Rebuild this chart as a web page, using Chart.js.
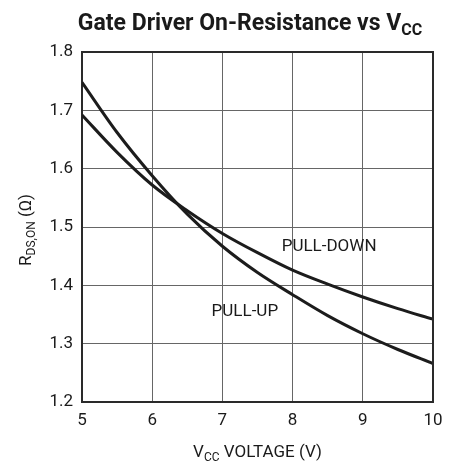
<!DOCTYPE html>
<html>
<head>
<meta charset="utf-8">
<script src="https://cdn.jsdelivr.net/npm/chart.js@4"></script>
<style>
  html, body { margin: 0; padding: 0; background: #fff; }
  #wrap { width: 458px; height: 463px; position: relative; }
</style>
</head>
<body>
<div id="wrap"><canvas id="c" width="458" height="463"></canvas></div>
<script>
// ---- data ----
const vcc = [5, 5.5, 6, 6.5, 7, 7.5, 8, 8.5, 9, 9.5, 10];
const pullUp = [1.748, 1.662, 1.588, 1.522, 1.467, 1.422, 1.384, 1.348, 1.317, 1.290, 1.266];
const pullDown = [1.692, 1.628, 1.572, 1.528, 1.489, 1.456, 1.426, 1.402, 1.380, 1.360, 1.342];
const xTicks = [5, 6, 7, 8, 9, 10];
const yTicks = [1.2, 1.3, 1.4, 1.5, 1.6, 1.7, 1.8];
const curveLabels = [
  { text: 'PULL-DOWN', x: 8.52, y: 1.467 },
  { text: 'PULL-UP', x: 7.32, y: 1.354 }
];
const titleMain = 'Gate Driver On-Resistance vs V';
const titleSub = 'CC';

const FONT = '"Liberation Sans Narrow", "Roboto", "Liberation Sans", sans-serif';

function drawSubText(ctx, parts, x, y, align) {
  let total = 0;
  parts.forEach(p => { ctx.font = p.font; total += ctx.measureText(p.t).width; });
  let cx = align === 'center' ? x - total / 2 : x;
  parts.forEach(p => {
    ctx.font = p.font;
    ctx.fillText(p.t, cx, y + (p.dy || 0));
    cx += ctx.measureText(p.t).width;
  });
}

const textPlugin = {
  id: 'textPlugin',
  afterDraw(chart) {
    const ctx = chart.ctx;
    const xs = chart.scales.x, ys = chart.scales.y;
    ctx.save();
    ctx.fillStyle = '#1a1a1a';
    ctx.textBaseline = 'alphabetic';
    ctx.textAlign = 'left';
    drawSubText(ctx, [
      { t: titleMain, font: 'bold 23px ' + FONT },
      { t: titleSub, font: 'bold 16px ' + FONT, dy: 5 }
    ], 250, 30, 'center');
    const cxa = (chart.chartArea.left + chart.chartArea.right) / 2;
    drawSubText(ctx, [
      { t: 'V', font: '17px ' + FONT },
      { t: 'CC', font: '12px ' + FONT, dy: 4 },
      { t: ' VOLTAGE (V)', font: '17px ' + FONT }
    ], cxa, 457, 'center');
    ctx.save();
    const cya = (chart.chartArea.top + chart.chartArea.bottom) / 2;
    ctx.translate(31, cya + 3);
    ctx.rotate(-Math.PI / 2);
    drawSubText(ctx, [
      { t: 'R', font: '17px ' + FONT },
      { t: 'DS,ON', font: '12px ' + FONT, dy: 4 },
      { t: ' (\u03A9)', font: '17px ' + FONT }
    ], 0, 0, 'center');
    ctx.restore();
    ctx.font = '17px ' + FONT;
    ctx.textAlign = 'center';
    ctx.textBaseline = 'middle';
    curveLabels.forEach(l => {
      ctx.fillText(l.text, xs.getPixelForValue(l.x), ys.getPixelForValue(l.y));
    });
    ctx.restore();
  }
};

new Chart(document.getElementById('c'), {
  type: 'scatter',
  data: {
    datasets: [
      {
        label: 'PULL-UP',
        data: vcc.map((v, i) => ({ x: v, y: pullUp[i] })),
        showLine: true, borderColor: '#1c1c1c', borderWidth: 3,
        pointRadius: 0, cubicInterpolationMode: 'monotone', fill: false
      },
      {
        label: 'PULL-DOWN',
        data: vcc.map((v, i) => ({ x: v, y: pullDown[i] })),
        showLine: true, borderColor: '#1c1c1c', borderWidth: 3,
        pointRadius: 0, cubicInterpolationMode: 'monotone', fill: false
      }
    ]
  },
  options: {
    responsive: false,
    animation: false,
    devicePixelRatio: 1,
    layout: { padding: { left: 0, right: 25, top: 52, bottom: 0 } },
    plugins: { legend: { display: false }, title: { display: false }, tooltip: { enabled: false } },
    scales: {
      x: {
        type: 'linear', min: 5, max: 10,
        afterFit(s) { s.height = 61; },
        afterBuildTicks(s) { s.ticks = xTicks.map(v => ({ value: v })); },
        ticks: { color: '#1a1a1a', font: { family: FONT, size: 17 }, padding: 9, maxRotation: 0 },
        grid: { color: '#666', lineWidth: 1, drawTicks: false },
        border: { color: '#2a2a2a', width: 2 }
      },
      y: {
        type: 'linear', min: 1.2, max: 1.8,
        afterFit(s) { s.width = 82; },
        afterBuildTicks(s) { s.ticks = yTicks.map(v => ({ value: v })); },
        ticks: { color: '#1a1a1a', font: { family: FONT, size: 17 }, padding: 9,
                 callback: v => v.toFixed(1) },
        grid: { color: '#666', lineWidth: 1, drawTicks: false },
        border: { color: '#2a2a2a', width: 2 }
      }
    }
  },
  plugins: [textPlugin, {
    id: 'frame',
    afterDatasetsDraw(chart) {
      const { ctx, chartArea: a } = chart;
      ctx.save();
      ctx.strokeStyle = '#2a2a2a';
      ctx.lineWidth = 2;
      ctx.beginPath();
      ctx.moveTo(a.left, a.top); ctx.lineTo(a.right, a.top); ctx.lineTo(a.right, a.bottom);
      ctx.stroke();
      ctx.restore();
    }
  }]
});
</script>
</body>
</html>
